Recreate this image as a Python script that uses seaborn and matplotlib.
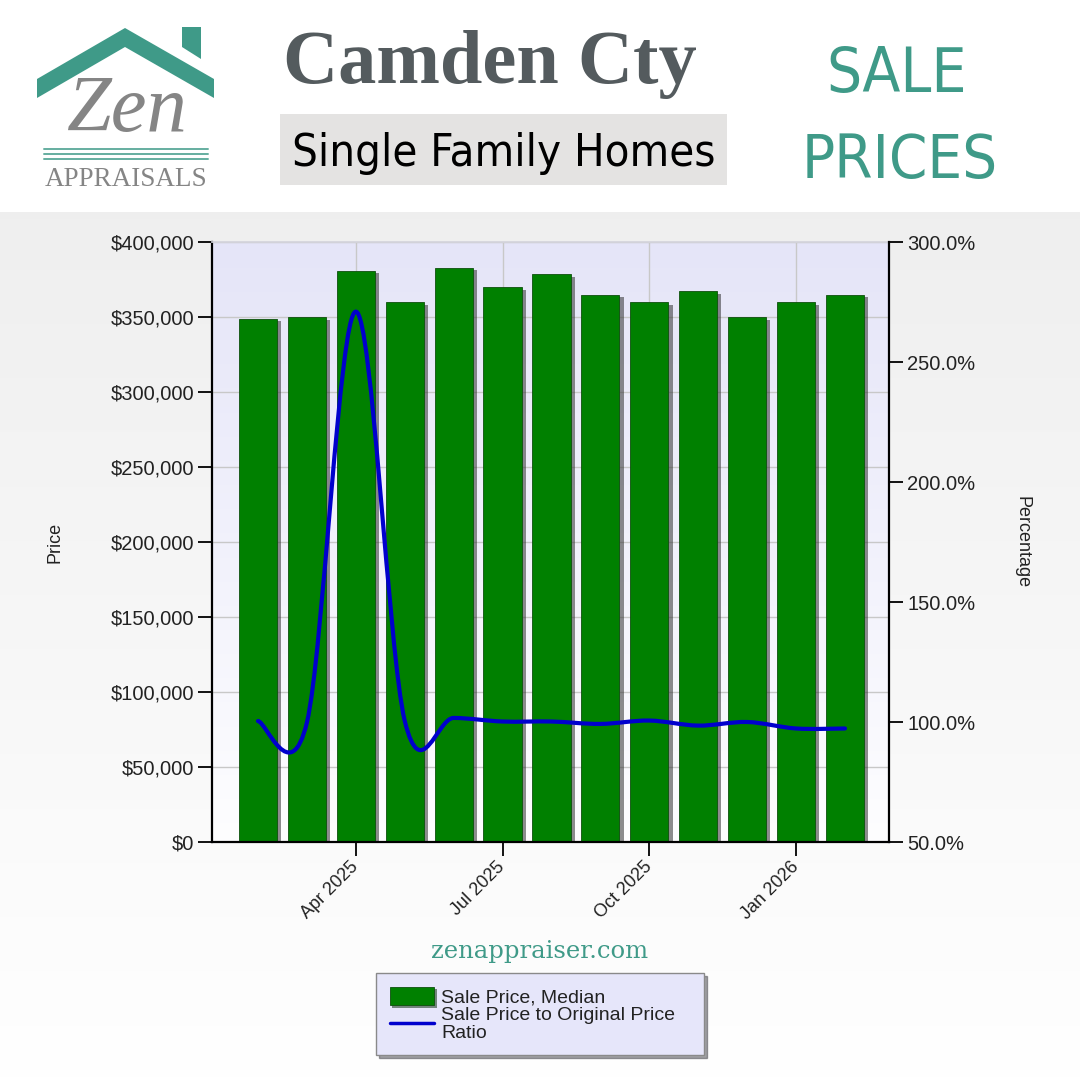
import numpy as np
import pandas as pd
import matplotlib
matplotlib.use("Agg")
import matplotlib.pyplot as plt
import matplotlib.patheffects as pe
import seaborn as sns
from matplotlib import font_manager as fm
from matplotlib.path import Path
from matplotlib.patches import PathPatch, Polygon, Rectangle, Patch
from matplotlib.lines import Line2D
from matplotlib.ticker import FuncFormatter

# data
months = ['Feb 2025', 'Mar 2025', 'Apr 2025', 'May 2025', 'Jun 2025', 'Jul 2025', 'Aug 2025',
          'Sep 2025', 'Oct 2025', 'Nov 2025', 'Dec 2025', 'Jan 2026', 'Feb 2026']
median_price = [349000, 350000, 381000, 360000, 383000, 370000, 378500,
                365000, 360000, 367500, 350000, 360000, 365000]
price_ratio = [100.4, 99.8, 271.0, 100.5, 101.7, 100.2, 100.2,
               99.2, 100.6, 98.5, 100.0, 97.3, 97.3]
tick_labels = ['Apr 2025', 'Jul 2025', 'Oct 2025', 'Jan 2026']
legend_labels = ['Sale Price, Median', 'Sale Price to Original Price\nRatio']

TEAL = '#3f9a88'
GREEN = '#008000'
BLUE = '#0000cd'

sns.set_theme(style="white")
plt.rcParams['font.family'] = ['Liberation Sans', 'DejaVu Sans']


def condensed_font():
    # look for any installed condensed / narrow face (regular, upright)
    best = None
    for f in fm.fontManager.ttflist:
        fn = f.fname.lower()
        if 'italic' in fn or 'oblique' in fn:
            continue
        if not ('condensed' in fn or 'narrow' in fn or 'condensed' in str(f.stretch)):
            continue
        w = f.weight if isinstance(f.weight, int) else 400
        score = abs(w - 400)
        if best is None or score < best[0]:
            best = (score, f.fname)
    if best:
        return fm.FontProperties(fname=best[1])
    return fm.FontProperties(family='Liberation Sans')


cond = condensed_font()

fig = plt.figure(figsize=(10.8, 10.8), dpi=100)
renderer = fig.canvas.get_renderer()


def fit_width(txt, width_px):
    # scale font so the text spans the width seen in the picture
    w = txt.get_window_extent(renderer).width
    txt.set_fontsize(txt.get_fontsize() * width_px / w)


# background + header, pixel coordinates
bg = fig.add_axes([0, 0, 1, 1], zorder=-5)
bg.set_xlim(0, 1080)
bg.set_ylim(1080, 0)
bg.axis('off')
g = np.linspace(0.937, 1.0, 256)[:, None]
bg.imshow(np.dstack([g, g, g]), extent=(0, 1080, 1080, 212), aspect='auto', zorder=0)

# logo
bg.add_patch(Polygon([(37, 79), (125, 28), (214, 79), (214, 98), (125, 47), (37, 98)],
                     closed=True, color=TEAL, lw=0, zorder=2))
bg.add_patch(Polygon([(182, 27), (201, 27), (201, 59), (182, 47)], closed=True,
                     color=TEAL, lw=0, zorder=2))
bg.text(126, 131, 'Zen', ha='center', va='baseline', fontsize=58, style='italic',
        family='Liberation Serif', color='#858585', zorder=3)
for yy in (149, 154, 159):
    bg.plot([44, 208], [yy, yy], color=TEAL, lw=1.4, alpha=0.8, zorder=2)
t_app = bg.text(126, 186, 'APPRAISALS', ha='center', va='baseline', fontsize=18,
                family='Liberation Serif', color='#858585', zorder=3)
fit_width(t_app, 163)

# titles
t_cam = bg.text(490, 83, 'Camden Cty', ha='center', va='baseline', fontsize=55,
                fontweight='bold', family='Liberation Serif', color='#545b5e', zorder=3)
fit_width(t_cam, 414)
bg.add_patch(Rectangle((280, 114), 447, 71, color='#e4e3e2', lw=0, zorder=2))
t_sfh = bg.text(504, 166, 'Single Family Homes', ha='center', va='baseline',
                fontproperties=cond, color='black', zorder=3)
t_sfh.set_fontsize(30)
fit_width(t_sfh, 422)
t_sale = bg.text(897, 92, 'SALE', ha='center', va='baseline', fontproperties=cond,
                 color=TEAL, zorder=3)
t_sale.set_fontsize(40)
fit_width(t_sale, 140)
t_pr = bg.text(900, 178, 'PRICES', ha='center', va='baseline', fontproperties=cond,
               color=TEAL, zorder=3)
t_pr.set_fontsize(40)
fit_width(t_pr, 196)
bg.text(540, 958, 'zenappraiser.com', ha='center', va='baseline', fontsize=17.5,
        family='DejaVu Serif', color=TEAL, zorder=3)

# plot area
pos = [212 / 1080, 1 - 842 / 1080, 677 / 1080, 600 / 1080]
pbg = fig.add_axes(pos, zorder=0)
pbg.axis('off')
pbg.set_xlim(0, 1)
pbg.set_ylim(0, 1)
t = np.linspace(0, 1, 256)[:, None]
top = np.array([0.898, 0.898, 0.973])
bot = np.array([0.995, 0.995, 1.0])
grad = top[None, None, :] * (1 - t[:, :, None]) + bot[None, None, :] * t[:, :, None]
pbg.imshow(grad, extent=(0, 1, 0, 1), aspect='auto')

ax = fig.add_axes(pos, zorder=1)
ax.patch.set_visible(False)
df = pd.DataFrame({'month': months, 'price': median_price})
sns.barplot(data=df, x='month', y='price', color=GREEN, saturation=1, width=0.78,
            edgecolor='#0d4f0d', linewidth=0.6, ax=ax)
for p in ax.patches:
    p.set_path_effects([pe.SimplePatchShadow(offset=(3, -2), shadow_rgbFace='#303030', alpha=0.55),
                        pe.Normal()])
ax.set_xlim(-0.94, 12.9)
ax.set_ylim(0, 400000)
ax.set_yticks(range(0, 400001, 50000))
ax.yaxis.set_major_formatter(FuncFormatter(lambda v, _: f'${v:,.0f}'))
ax.set_xticks([months.index(m) for m in tick_labels])
ax.set_xticklabels(tick_labels, rotation=45, ha='right', va='center', rotation_mode='anchor')
ax.set_xlabel('')
ax.set_ylabel('Price', fontsize=13, color='#222222', labelpad=34)
ax.grid(True, color='#c8c8c8', lw=1)
ax.set_axisbelow(True)
ax.tick_params(axis='x', length=10, width=1.3, color='black', direction='out', pad=6,
               labelsize=13, labelcolor='#222222', bottom=True)
ax.tick_params(axis='y', length=10, width=1.3, color='black', direction='out', pad=3,
               labelsize=14.5, labelcolor='#222222', left=True)
for s in ('left', 'bottom'):
    ax.spines[s].set_color('black')
    ax.spines[s].set_linewidth(1.6)
ax.spines['top'].set_color('#d4d4dc')
ax.spines['right'].set_visible(False)

# ratio line on right axis, smooth curve through the points
ax2 = ax.twinx()
ax2.set_zorder(2)
ax2.patch.set_visible(False)
ax2.set_ylim(50, 300)
ax2.set_yticks(range(50, 301, 50))
ax2.yaxis.set_major_formatter(FuncFormatter(lambda v, _: f'{v:.1f}%'))
ax2.grid(False)
xs = np.arange(len(price_ratio), dtype=float)
ys = np.array(price_ratio)
n = len(xs)
verts = [(xs[0], ys[0])]
codes = [Path.MOVETO]
for i in range(n - 1):
    a = max(i - 1, 0)
    b = min(i + 2, n - 1)
    c1 = (xs[i] + (xs[i + 1] - xs[a]) / 6, ys[i] + (ys[i + 1] - ys[a]) / 6)
    c2 = (xs[i + 1] - (xs[b] - xs[i]) / 6, ys[i + 1] - (ys[b] - ys[i]) / 6)
    verts += [c1, c2, (xs[i + 1], ys[i + 1])]
    codes += [Path.CURVE4] * 3
ax2.add_patch(PathPatch(Path(verts, codes), facecolor='none', edgecolor=BLUE, lw=3.0,
                        capstyle='round', joinstyle='round'))
ax2.set_xlim(-0.94, 12.9)
ax2.set_ylabel('Percentage', fontsize=13, color='#222222', rotation=270, labelpad=40)
ax2.tick_params(axis='y', length=10, width=1.3, color='black', direction='out', pad=3,
                labelsize=14.5, labelcolor='#222222', right=True)
for s in ('left', 'top', 'bottom'):
    ax2.spines[s].set_visible(False)
ax2.spines['right'].set_color('black')
ax2.spines['right'].set_linewidth(1.6)

# legend
handles = [Patch(facecolor=GREEN, edgecolor='#0d4f0d', lw=0.6,
                 path_effects=[pe.SimplePatchShadow(offset=(2, -2), alpha=0.5), pe.Normal()]),
           Line2D([0], [0], color=BLUE, lw=2.5)]
leg = fig.legend(handles, legend_labels, loc='upper left',
                 bbox_to_anchor=(376 / 1080, 1 - 1068 / 1080, 328 / 1080, 95 / 1080),
                 mode='expand', fontsize=14, frameon=True, fancybox=False, shadow=True,
                 facecolor='#e6e6fa', edgecolor='#8a8a8a', framealpha=1,
                 handlelength=2.3, handleheight=1.1, labelspacing=0.0,
                 borderpad=0.7, handletextpad=0.35, borderaxespad=0)
for txt in leg.get_texts():
    txt.set_color('#222222')
    txt.set_linespacing(1.1)

fig.savefig('out.png', dpi=100)
